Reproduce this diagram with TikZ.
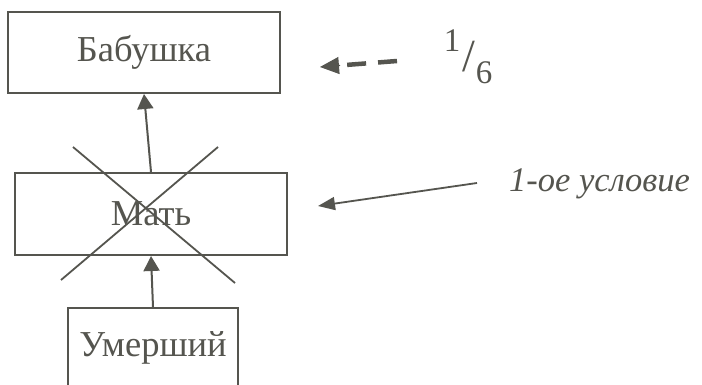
\documentclass[tikz,border=0pt]{standalone}
\usepackage{fontspec}
\setmainfont{Liberation Serif}
\usetikzlibrary{arrows.meta,calc}
\definecolor{ink}{HTML}{55554F}
\tikzset{
  box/.style={draw=ink, line width=2pt, text=ink, inner sep=0pt, font=\fontsize{36.5}{40}\selectfont},
  conn/.style={draw=ink, line width=2pt, -{Triangle[length=15pt,width=16pt]}},
  lbl/.style={text=ink, inner sep=0pt},
  cross/.style={draw=ink, line width=1.8pt}
}
\begin{document}
\begin{tikzpicture}[x=1pt,y=-1pt]
\clip (0,0) rectangle (702,385);
\fill[white] (0,0) rectangle (702,385);
\node[box, minimum width=272pt, minimum height=81pt] (b) at (144,52.5) {Бабушка};
\node[box, minimum width=272pt, minimum height=82pt] (m) at (151,214) {Мать};
\node[box, minimum width=170pt, minimum height=80pt] (u) at (153,348) {Умерший};
\draw[conn] (m.north) -- (b.south);
\draw[conn] (u.north) -- (m.south);
\coordinate (c1a) at (73,147);
\coordinate (c1b) at (235,283);
\coordinate (c2a) at (218,147);
\coordinate (c2b) at (61,280);
\draw[cross] (c1a) -- (c1b);
\draw[cross] (c2a) -- (c2b);
% dashed arrow
\coordinate (dt) at (397,61);
\coordinate (dh) at (320,67);
\draw[draw=ink, line width=4.5pt, dash pattern=on 19pt off 12pt, dash phase=0pt] (dt) -- ($(dt)!0.75!(dh)$);
\path[draw=ink, line width=1pt, -{Triangle[length=19pt,width=17pt]}, fill=ink] ($(dt)!0.74!(dh)$) -- (dh);
% fraction
\node[lbl, font=\fontsize{33}{36}\selectfont] (num) at (452,41) {1};
\node[lbl, font=\fontsize{46}{50}\selectfont] (sl) at (468.5,57) {/};
\node[lbl, font=\fontsize{33}{36}\selectfont] (den) at (484,73) {6};
% solid arrow
\node[lbl, font=\fontsize{34.5}{38}\selectfont\itshape, anchor=west] (t1) at (509,184) {1-ое условие};
\coordinate (st) at (477,183);
\coordinate (sh) at (318,206);
\draw[draw=ink, line width=1.8pt, -{Triangle[length=17pt,width=13pt]}] (st) -- (sh);
\end{tikzpicture}
\end{document}
